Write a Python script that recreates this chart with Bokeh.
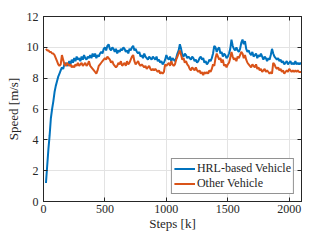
from bokeh.plotting import figure
from bokeh.models import LinearAxis, Legend, LegendItem, Range1d
from bokeh.embed import file_html
from bokeh.resources import INLINE

# ---- data, one sample every 10 k steps ----
hrl_steps = list(range(20, 2101, 10))
hrl_speed = [
    1.2, 2.3, 3.4, 4.3, 5.4, 6.0, 6.5, 7.1, 7.5, 7.8, 8.1, 8.3, 8.5, 8.7, 8.6, 8.9,
    9.0, 8.8, 8.9, 9.1, 8.9, 9.2, 9.0, 9.3, 9.1, 9.4,
    9.2, 9.3, 9.1, 9.4, 9.2, 9.5, 9.3, 9.2, 9.4, 9.3,
    9.5, 9.3, 9.6, 9.4, 9.6, 9.3, 9.5, 9.4, 9.6, 9.7,
    9.6, 9.9, 10.0, 9.8, 10.1, 10.2, 9.9, 9.8, 10.0, 9.9,
    9.7, 9.9, 9.6, 9.8, 9.7, 9.9, 9.8, 10.0, 9.9, 9.7,
    9.8, 9.6, 9.9, 9.8, 10.0, 10.1, 9.8, 9.9, 9.7, 9.6,
    9.7, 9.4, 9.5, 9.3, 9.6, 9.4, 9.3, 9.2, 9.4, 9.3,
    9.2, 9.4, 9.3, 9.2, 9.4, 9.1, 9.2, 9.0, 9.1, 8.9,
    9.0, 9.2, 9.5, 9.3, 9.2, 9.4, 9.1, 9.3, 9.2, 9.1,
    9.3, 9.6, 9.8, 10.2, 9.9, 9.5, 9.4, 9.6, 9.5, 9.3,
    9.4, 9.3, 9.2, 9.4, 9.3, 9.1, 9.2, 9.0, 9.1, 9.3,
    9.4, 9.2, 9.3, 9.0, 9.1, 8.9, 9.0, 9.2, 9.1, 9.3,
    9.6, 10.1, 10.0, 9.7, 9.9, 10.0, 9.6, 9.7, 9.4, 9.6,
    9.5, 9.3, 9.4, 9.6, 9.9, 10.5, 10.1, 9.9, 9.8, 10.0,
    9.8, 9.7, 9.9, 10.3, 10.5, 10.2, 10.4, 9.9, 9.7, 9.8,
    9.6, 9.5, 9.7, 9.4, 9.5, 9.6, 9.3, 9.5, 9.4, 9.6,
    9.4, 9.2, 9.4, 9.3, 9.1, 9.3, 9.2, 9.5, 9.9, 9.6,
    9.4, 9.3, 9.2, 9.3, 9.1, 9.2, 9.0, 9.1, 8.9, 9.0,
    9.1, 8.9, 9.0, 9.1, 8.9, 9.0, 8.9, 9.1, 8.9, 9.0,
    8.9, 9.0, 8.9]

other_steps = list(range(20, 2101, 10))
other_speed = [
    9.9, 9.8, 9.8, 9.7, 9.7, 9.6, 9.6, 9.5, 9.3, 9.1,
    8.9, 8.8, 8.9, 9.5, 9.2, 8.9, 8.8, 9.0, 8.9, 8.8,
    8.9, 8.7, 8.8, 8.7, 8.9, 8.8, 9.0, 8.8, 8.9, 9.0,
    8.8, 8.9, 9.0, 8.8, 8.9, 9.1, 8.8, 8.7, 8.6, 8.5,
    8.4, 8.3, 8.5, 8.8, 8.9, 9.0, 9.1, 9.2, 9.3, 9.2,
    9.4, 9.3, 9.2, 9.0, 9.1, 8.9, 8.8, 8.7, 8.8, 9.0,
    8.9, 9.1, 8.8, 8.9, 9.0, 8.8, 9.1, 8.9, 9.0, 9.2,
    9.4, 9.5, 9.1, 8.9, 9.0, 9.1, 8.9, 8.8, 8.9, 8.8,
    8.7, 8.8, 8.6, 8.7, 8.8, 8.6, 8.5, 8.6, 8.5, 8.6,
    8.5, 8.4, 8.5, 8.3, 8.4, 8.3, 8.4, 8.9, 8.8, 8.9,
    9.0, 8.8, 9.1, 8.9, 8.8, 8.9, 9.2, 9.4, 9.6, 9.8,
    9.5, 9.2, 9.3, 9.0, 9.1, 8.9, 8.8, 8.6, 8.5, 8.7,
    8.6, 8.5, 8.7, 8.5, 8.4, 8.5, 8.3, 8.4, 8.2, 8.4,
    8.3, 8.4, 8.3, 8.5, 8.4, 8.6, 8.9, 8.8, 9.3, 9.6,
    9.4, 9.2, 9.3, 9.0, 9.2, 8.8, 8.9, 8.7, 8.9, 9.0,
    9.3, 9.7, 9.4, 9.2, 9.3, 9.1, 9.4, 9.3, 9.5, 9.7,
    9.6, 9.3, 9.5, 9.2, 9.0, 8.9, 8.8, 8.7, 8.9, 8.8,
    8.7, 8.9, 8.6, 8.7, 8.5, 8.6, 8.4, 8.5, 8.6, 8.4,
    8.5, 8.4, 8.3, 8.4, 8.3, 9.0, 8.9, 8.7, 8.6, 8.7,
    8.5, 8.6, 8.4, 8.5, 8.3, 8.4, 8.5, 8.4, 8.6, 8.5,
    8.4, 8.5, 8.4, 8.5, 8.4, 8.5, 8.4, 8.4, 8.4]

n = min(len(hrl_steps), len(hrl_speed))
hrl_steps, hrl_speed = hrl_steps[:n], hrl_speed[:n]
m = min(len(other_steps), len(other_speed))
other_steps, other_speed = other_steps[:m], other_speed[:m]

x_ticks = [0, 500, 1000, 1500, 2000]
y_ticks = [0, 2, 4, 6, 8, 10, 12]
series_names = ["HRL-based Vehicle", "Other Vehicle"]

FONT = "'Liberation Serif', 'Times New Roman', serif"
AX = "#262626"
BLUE = "#0072BD"
ORANGE = "#D95319"

p = figure(width=316, height=233, x_range=Range1d(0, 2100), y_range=Range1d(0, 12),
           output_backend="svg", toolbar_location=None,
           min_border_left=43, min_border_top=16, min_border_right=15, min_border_bottom=0)
p.background_fill_color = "white"
p.outline_line_color = AX
p.outline_line_width = 1

for ax in (p.xaxis[0], p.yaxis[0]):
    ax.axis_line_color = AX
    ax.major_tick_line_color = AX
    ax.major_tick_in = 4
    ax.major_tick_out = 0
    ax.minor_tick_line_color = None
    ax.major_label_text_font = FONT
    ax.major_label_text_font_size = "12px"
    ax.major_label_text_color = AX
    ax.major_label_text_line_height = 1.0
    ax.axis_label_text_font = FONT
    ax.axis_label_text_font_size = "13px"
    ax.axis_label_text_font_style = "normal"
    ax.axis_label_text_color = AX
    ax.axis_label_text_line_height = 1.0
p.xaxis.ticker = x_ticks
p.yaxis.ticker = y_ticks
p.xaxis.axis_label = "Steps [k]"
p.yaxis.axis_label = "Speed [m/s]"
p.xaxis.major_label_standoff = 3
p.xaxis.axis_label_standoff = 0
p.yaxis.major_label_standoff = 5
p.yaxis.axis_label_standoff = 3

# box axes (top/right) with inward ticks, labels left empty
top = LinearAxis(ticker=x_ticks, major_label_overrides={t: "" for t in x_ticks},
                 major_tick_in=4, major_tick_out=0, minor_tick_line_color=None,
                 axis_line_color=AX, major_tick_line_color=AX, major_label_standoff=0)
right = LinearAxis(ticker=y_ticks, major_label_overrides={t: "" for t in y_ticks},
                   major_tick_in=4, major_tick_out=0, minor_tick_line_color=None,
                   axis_line_color=AX, major_tick_line_color=AX, major_label_standoff=0)
p.add_layout(top, "above")
p.add_layout(right, "right")

p.xgrid.ticker = x_ticks
p.ygrid.ticker = y_ticks
p.grid.grid_line_color = "#e3e3e3"
p.grid.grid_line_width = 1

r1 = p.line(hrl_steps, hrl_speed, line_color=BLUE, line_width=2)
r2 = p.line(other_steps, other_speed, line_color=ORANGE, line_width=2)

legend = Legend(items=[LegendItem(label=series_names[0], renderers=[r1]),
                       LegendItem(label=series_names[1], renderers=[r2])],
                location="bottom_right")
legend.label_text_font = FONT
legend.label_text_font_size = "12px"
legend.label_text_color = AX
legend.label_text_line_height = 1.0
legend.border_line_color = AX
legend.border_line_width = 1
legend.background_fill_color = "white"
legend.background_fill_alpha = 1
legend.glyph_width = 21
legend.glyph_height = 11
legend.label_height = 11
legend.label_standoff = 2
legend.spacing = 0
legend.padding = 2
legend.margin = 7
p.add_layout(legend)

open("out.html", "w").write(file_html(p, INLINE))
